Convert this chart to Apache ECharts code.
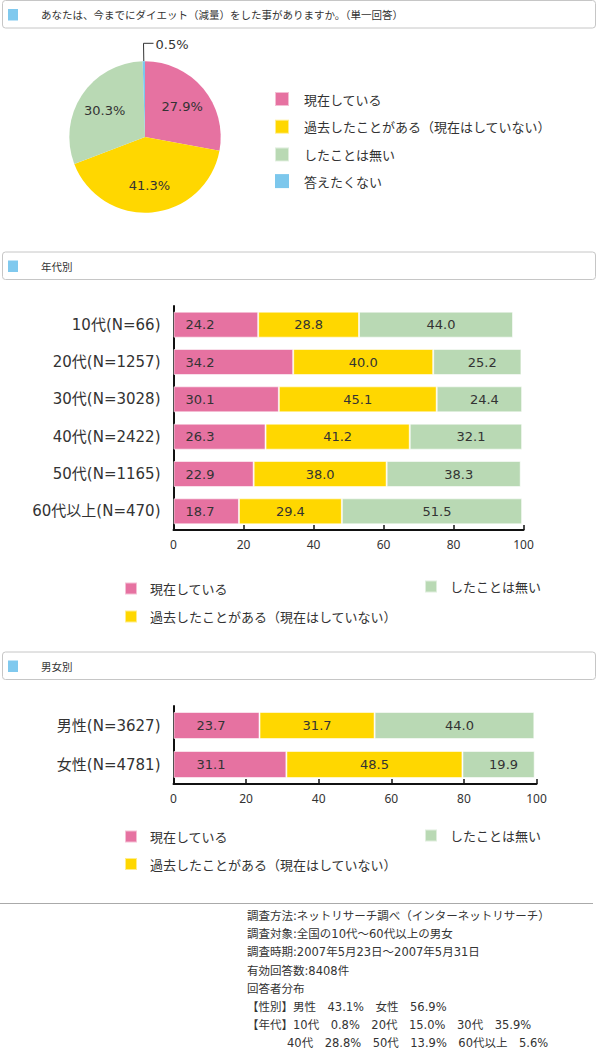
<!DOCTYPE html>
<html>
<head>
<meta charset="utf-8">
<script src="https://cdn.jsdelivr.net/npm/echarts@6/dist/echarts.min.js"></script>
<style>
html,body{margin:0;padding:0;background:#fff;}
#chart{width:597px;height:1051px;}
</style>
</head>
<body>
<div id="chart"></div>
<script>
// ---- data ----
const pieNames = ['現在している', '過去したことがある（現在はしていない）', 'したことは無い', '答えたくない'];
const pieValues = [27.9, 41.3, 30.3, 0.5];

const ageCategories = ['10代(N=66)', '20代(N=1257)', '30代(N=3028)', '40代(N=2422)', '50代(N=1165)', '60代以上(N=470)'];
const ageCurrent = [24.2, 34.2, 30.1, 26.3, 22.9, 18.7];
const agePast    = [28.8, 40.0, 45.1, 41.2, 38.0, 29.4];
const ageNever   = [44.0, 25.2, 24.4, 32.1, 38.3, 51.5];

const sexCategories = ['男性(N=3627)', '女性(N=4781)'];
const sexCurrent = [23.7, 31.1];
const sexPast    = [31.7, 48.5];
const sexNever   = [44.0, 19.9];

const axisMin = 0, axisMax = 100, axisStep = 20;

const headers = [
  'あなたは、今までにダイエット（減量）をした事がありますか。（単一回答）',
  '年代別',
  '男女別'
];
const footerLines = [
  '調査方法:ネットリサーチ調べ（インターネットリサーチ）',
  '調査対象:全国の10代～60代以上の男女',
  '調査時期:2007年5月23日～2007年5月31日',
  '有効回答数:8408件',
  '回答者分布',
  '【性別】男性　43.1%　女性　56.9%',
  '【年代】10代　0.8%　20代　15.0%　30代　35.9%',
  '40代　28.8%　50代　13.9%　60代以上　5.6%'
];

// ---- styles ----
const PINK = '#E672A1', YELLOW = '#FFD700', GREEN = '#B9D9B4', BLUE = '#7CC7EC';
const pieColors = [PINK, YELLOW, GREEN, BLUE];
const NUMFONT = "'DejaVu Sans', 'Noto Sans CJK JP', sans-serif";
const JPFONT = "'Noto Sans CJK JP', sans-serif";
const TXT = '#333';

const chart = echarts.init(document.getElementById('chart'), null, {renderer: 'svg'});

const fmt = p => Number(p.value).toFixed(1);

function headerGraphic(text, top) {
  return [
    {type: 'rect', shape: {x: 2.5, y: top + 0.5, width: 593, height: 27.5, r: 3},
     style: {fill: '#fff', stroke: '#c6c6c6', lineWidth: 1}, z: 1},
    {type: 'rect', shape: {x: 8, y: top + 9, width: 10, height: 11.5},
     style: {fill: '#80C9EE'}, z: 2},
    {type: 'text', x: 41, y: top + 14.5, z: 2,
     style: {text: text, fill: TXT, font: '10.5px ' + JPFONT, verticalAlign: 'middle', align: 'left'}}
  ];
}

const graphics = []
  .concat(headerGraphic(headers[0], 0))
  .concat(headerGraphic(headers[1], 251.5))
  .concat(headerGraphic(headers[2], 651.5));

graphics.push({type: 'line', shape: {x1: 0, y1: 903.5, x2: 593, y2: 903.5},
  style: {stroke: '#aaa', lineWidth: 1}});
footerLines.forEach((t, i) => {
  graphics.push({type: 'text', x: i === footerLines.length - 1 ? 287 : 247, y: 916 + 18.2 * i,
    style: {text: t, fill: TXT, font: '11.5px ' + NUMFONT, verticalAlign: 'middle', align: 'left'}});
});

function legendBlock(names, left, top, gap) {
  return {
    data: names, left: left, top: top, orient: 'vertical', icon: 'rect', padding: 0,
    itemWidth: 12, itemHeight: 12, itemGap: gap, selectedMode: false,
    textStyle: {fontSize: 13, color: TXT, fontFamily: JPFONT, padding: [0, 0, 0, 8], lineHeight: 12}
  };
}

function xAxisCfg(gi) {
  return {
    gridIndex: gi, type: 'value', min: axisMin, max: axisMax, interval: axisStep,
    axisLine: {show: true, lineStyle: {color: '#111', width: 2}},
    axisTick: {show: true, inside: true, length: 5, lineStyle: {color: '#111', width: 1.5}},
    axisLabel: {fontSize: 12, color: TXT, margin: 8, fontFamily: "'Noto Sans', sans-serif"},
    splitLine: {show: false}
  };
}
function yAxisCfg(gi, cats) {
  return {
    gridIndex: gi, type: 'category', data: cats, inverse: true,
    axisLine: {show: true, lineStyle: {color: '#111', width: 2}},
    axisTick: {show: false},
    axisLabel: {fontSize: 15, color: TXT, margin: 13, fontFamily: NUMFONT},
    splitLine: {show: false}
  };
}
function barSeries(name, data, gi, stack, color, width, label) {
  return {
    type: 'bar', name: name, data: data, xAxisIndex: gi, yAxisIndex: gi, stack: stack,
    barWidth: width, silent: true,
    itemStyle: {color: color, borderColor: 'rgba(255,255,255,0.55)', borderWidth: 1},
    label: Object.assign({show: true, formatter: fmt, fontSize: 13, color: TXT, fontFamily: NUMFONT}, label)
  };
}

const option = {
  animation: false,
  backgroundColor: '#fff',
  textStyle: {fontFamily: JPFONT},
  graphic: graphics,
  legend: [
    {
      data: pieNames, left: 274, top: 91, orient: 'vertical', icon: 'rect', padding: 0,
      itemWidth: 14, itemHeight: 14, itemGap: 11.7, selectedMode: false,
      textStyle: {fontSize: 13, color: TXT, fontFamily: JPFONT, padding: [0, 0, 0, 10], lineHeight: 14}
    },
    legendBlock([pieNames[0], pieNames[1]], 124, 581.5, 14),
    legendBlock([pieNames[2]], 424, 579.5, 14),
    legendBlock([pieNames[0], pieNames[1]], 124, 829.5, 13.5),
    legendBlock([pieNames[2]], 424, 828.5, 13.5)
  ],
  grid: [
    {left: 173.5, top: 306, width: 350, height: 224, containLabel: false},
    {left: 173.5, top: 706, width: 363, height: 78, containLabel: false}
  ],
  xAxis: [xAxisCfg(0), xAxisCfg(1)],
  yAxis: [yAxisCfg(0, ageCategories), yAxisCfg(1, sexCategories)],
  series: [
    {
      type: 'pie', center: [145, 137], radius: [0, 75.7], startAngle: 90, clockwise: true,
      silent: true, label: {show: false}, labelLine: {show: false},
      data: pieNames.map((n, i) => ({name: n, value: pieValues[i], itemStyle: {color: pieColors[i]}}))
    },
    {
      type: 'pie', center: [145, 137], radius: [15.14, 75.7], startAngle: 90, clockwise: true,
      silent: true, avoidLabelOverlap: false,
      itemStyle: {color: 'rgba(0,0,0,0)'},
      label: {show: true, position: 'inside', formatter: p => Number(p.value).toFixed(1) + '%',
              fontSize: 13, color: TXT, fontFamily: NUMFONT},
      labelLine: {show: false},
      labelLayout: function (p) {
        if (p.dataIndex !== 3 || !p.labelLinePoints) return {};
        const pts = p.labelLinePoints;
        const p1 = pts[1];
        const len = Math.abs(pts[2][0] - pts[1][0]);
        const end = [p1[0] + len, p1[1]];
        return {x: end[0] + 2, y: p1[1] + 1.5, align: 'left', verticalAlign: 'middle',
                labelLinePoints: [pts[0], p1, end]};
      },
      data: pieNames.map((n, i) => {
        const d = {name: n, value: pieValues[i], itemStyle: {color: 'rgba(0,0,0,0)'}};
        if (i === 3) {
          d.label = {position: 'outside'};
          d.labelLine = {show: true, length: 18, length2: 10, smooth: false,
                         lineStyle: {color: '#333', width: 1}};
        }
        return d;
      })
    },
    barSeries(pieNames[0], ageCurrent, 0, 'age', PINK, 26, {position: 'insideLeft', distance: 12}),
    barSeries(pieNames[1], agePast, 0, 'age', YELLOW, 26, {position: 'inside'}),
    barSeries(pieNames[2], ageNever, 0, 'age', GREEN, 26, {position: 'inside', offset: [5, 0]}),
    barSeries(pieNames[0], sexCurrent, 1, 'sex', PINK, 27, {position: 'insideLeft', distance: 23}),
    barSeries(pieNames[1], sexPast, 1, 'sex', YELLOW, 27, {position: 'inside'}),
    barSeries(pieNames[2], sexNever, 1, 'sex', GREEN, 27, {position: 'inside', offset: [5, 0]})
  ]
};
chart.setOption(option);
</script>
</body>
</html>
